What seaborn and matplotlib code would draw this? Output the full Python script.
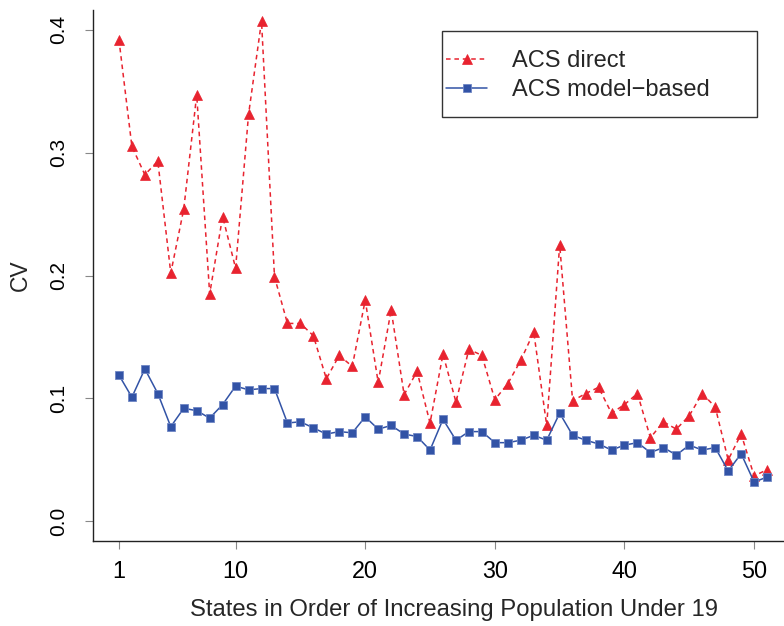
import numpy as np
import pandas as pd
import matplotlib
matplotlib.use("Agg")
import matplotlib.pyplot as plt
import seaborn as sns
from matplotlib.patches import Rectangle

states = list(range(1, 52))
acs_direct = [0.392, 0.305, 0.282, 0.293, 0.202, 0.254, 0.347, 0.185, 0.248, 0.206,
              0.331, 0.407, 0.199, 0.161, 0.161, 0.151, 0.116, 0.135, 0.126, 0.180,
              0.113, 0.172, 0.103, 0.122, 0.080, 0.136, 0.097, 0.140, 0.135, 0.099,
              0.112, 0.131, 0.154, 0.078, 0.225, 0.098, 0.104, 0.109, 0.088, 0.095,
              0.104, 0.068, 0.081, 0.075, 0.086, 0.104, 0.093, 0.050, 0.071, 0.037,
              0.042]
acs_model = [0.119, 0.101, 0.124, 0.104, 0.077, 0.092, 0.090, 0.084, 0.095, 0.110,
             0.107, 0.108, 0.108, 0.080, 0.081, 0.076, 0.071, 0.073, 0.072, 0.085,
             0.075, 0.078, 0.071, 0.069, 0.058, 0.083, 0.066, 0.073, 0.073, 0.064,
             0.064, 0.066, 0.070, 0.066, 0.088, 0.070, 0.066, 0.063, 0.058, 0.062,
             0.064, 0.056, 0.060, 0.054, 0.062, 0.058, 0.060, 0.041, 0.055, 0.032,
             0.036]
series_labels = ["ACS direct", "ACS model\u2212based"]
x_ticks = [1, 10, 20, 30, 40, 50]
y_ticks = [0.0, 0.1, 0.2, 0.3, 0.4]

sns.set_style("white")
plt.rcParams["font.family"] = ["Liberation Sans", "DejaVu Sans"]

RED = "#E8232F"
BLUE = "#3253A6"

W, H = 784, 626
fig = plt.figure(figsize=(W / 100, H / 100), dpi=100)
left, right, bottom, top = 93, 793, 541, 10
ax = fig.add_axes([left / W, (H - bottom) / H, (right - left) / W, (bottom - top) / H])

df = pd.DataFrame({"state": states, "direct": acs_direct, "model": acs_model})

sns.lineplot(data=df, x="state", y="direct", ax=ax, color=RED, lw=1.1,
             linestyle=(0, (3, 2.5)), marker="^", markersize=7,
             markeredgecolor=RED, markeredgewidth=0.5, label=series_labels[0])
sns.lineplot(data=df, x="state", y="model", ax=ax, color=BLUE, lw=1.1,
             linestyle="-", marker="s", markersize=5.2,
             markeredgecolor="#6f86c4", markeredgewidth=0.6, label=series_labels[1])

ax.set_xlim(-1, 53)
ax.set_ylim(-0.016, 0.416)
ax.set_xticks(x_ticks)
ax.set_xticklabels([str(t) for t in x_ticks], fontsize=16.8)
ax.set_yticks(y_ticks)
ax.set_yticklabels([f"{t:.1f}" for t in y_ticks], rotation=90, va="center", fontsize=15)

for s in ["top", "right"]:
    ax.spines[s].set_visible(False)
for s in ["left", "bottom"]:
    ax.spines[s].set_color("#222222")
    ax.spines[s].set_linewidth(1.0)

ax.tick_params(axis="both", direction="out", length=6, width=0.8, color="#888888",
               labelcolor="black", left=True, bottom=True)
ax.tick_params(axis="x", pad=8)
ax.tick_params(axis="y", pad=12)

ax.set_xlabel("States in Order of Increasing Population Under 19", fontsize=17.2, labelpad=11)
ax.xaxis.label.set_x((454 - left) / (right - left))
ax.set_ylabel("CV", fontsize=16.5, labelpad=12)

# legend
leg = ax.legend(loc="upper left", frameon=False, fontsize=17,
                bbox_to_anchor=((446 - left) / (right - left), (bottom - 50) / (bottom - top)),
                borderaxespad=0, borderpad=0, handlelength=1.75, handletextpad=1.05,
                labelspacing=0.31)
# legend box
bx0, by0, bx1, by1 = 442, 31, 757, 117
ax.add_patch(Rectangle(((bx0 - left) / (right - left), (bottom - by1) / (bottom - top)),
                       (bx1 - bx0) / (right - left), (by1 - by0) / (bottom - top),
                       transform=ax.transAxes, fill=False, edgecolor="#333333",
                       linewidth=1.0, zorder=5))

fig.savefig("out.png", dpi=100)
